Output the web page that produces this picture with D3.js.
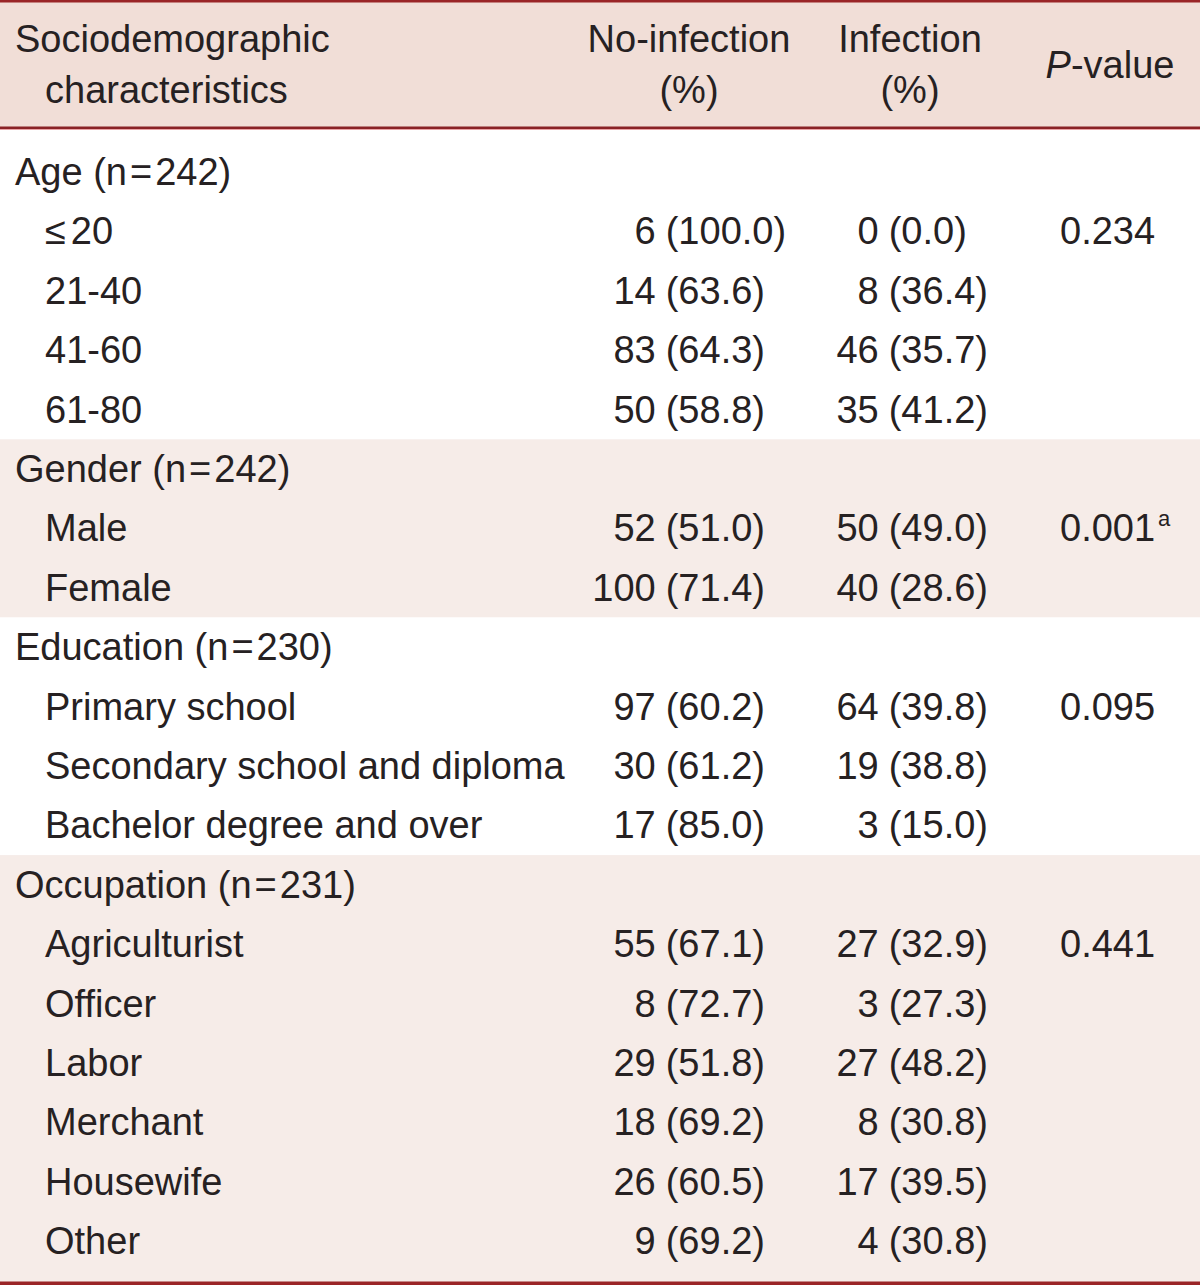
<!DOCTYPE html>
<html><head><meta charset="utf-8">
<script src="https://cdn.jsdelivr.net/npm/d3@7"></script>
<style>
html,body{margin:0;padding:0;background:#fff;}
svg{display:block;}
text{font-family:"Liberation Sans",Arial,sans-serif;font-size:38px;fill:#262122;white-space:pre;}
</style></head>
<body>
<svg id="chart" width="1200" height="1285"></svg>
<script>
// ---- data ----
const groupTitles = ["Age", "Gender", "Education", "Occupation"];
const groupN = [242, 242, 230, 231];
const groupPValues = ["0.234", "0.001", "0.095", "0.441"];
const groupPNotes = ["", "a", "", ""];
const groupShaded = [false, true, false, true];
const categories = [
  ["≤20", "21-40", "41-60", "61-80"],
  ["Male", "Female"],
  ["Primary school", "Secondary school and diploma", "Bachelor degree and over"],
  ["Agriculturist", "Officer", "Labor", "Merchant", "Housewife", "Other"]
];
const noInfectionN = [[6, 14, 83, 50], [52, 100], [97, 30, 17], [55, 8, 29, 18, 26, 9]];
const noInfectionPct = [["100.0", "63.6", "64.3", "58.8"], ["51.0", "71.4"], ["60.2", "61.2", "85.0"], ["67.1", "72.7", "51.8", "69.2", "60.5", "69.2"]];
const infectionN = [[0, 8, 46, 35], [50, 40], [64, 19, 3], [27, 3, 27, 8, 17, 4]];
const infectionPct = [["0.0", "36.4", "35.7", "41.2"], ["49.0", "28.6"], ["39.8", "38.8", "15.0"], ["32.9", "27.3", "48.2", "30.8", "39.5", "30.8"]];
const headerLabels = ["Sociodemographic", "characteristics", "No-infection", "(%)", "Infection", "(%)", "P-value"];

// ---- build rows ----
const rows = [];
groupTitles.forEach((g, gi) => {
  rows.push({type: "group", gi, label: g, n: groupN[gi]});
  categories[gi].forEach((c, ci) => {
    rows.push({type: "item", gi, ci, label: c,
      nn: noInfectionN[gi][ci], np: noInfectionPct[gi][ci],
      inn: infectionN[gi][ci], ip: infectionPct[gi][ci],
      p: ci === 0 ? groupPValues[gi] : null, note: ci === 0 ? groupPNotes[gi] : ""});
  });
});

const W = 1200, H = 1285;
const svg = d3.select("#chart");
const headerBottom = 128;
const tableBottom = 1282;
const step = 59.4;
const y = d3.scaleBand().domain(d3.range(rows.length))
  .range([172 - step / 2, 172 - step / 2 + step * rows.length]).paddingInner(0).paddingOuter(0);
const base = i => y(i) + y.bandwidth() / 2 + 13;

// header background
svg.append("rect").attr("x", 0).attr("y", 0).attr("width", W).attr("height", headerBottom).attr("fill", "#f1ded7");

// group bands
groupTitles.forEach((g, gi) => {
  const idx = rows.map((r, i) => r.gi === gi ? i : -1).filter(i => i >= 0);
  const first = idx[0], last = idx[idx.length - 1];
  const top = gi === 0 ? headerBottom : y(first);
  const bot = gi === groupTitles.length - 1 ? tableBottom : y(last) + y.bandwidth();
  svg.append("rect").attr("x", 0).attr("y", top).attr("width", W).attr("height", bot - top)
    .attr("fill", groupShaded[gi] ? "#f6ece8" : "#ffffff");
});

// rules
svg.append("rect").attr("x", 0).attr("y", 0).attr("width", W).attr("height", 2.5).attr("fill", "#9a2527");
svg.append("rect").attr("x", 0).attr("y", headerBottom - 1.5).attr("width", W).attr("height", 2.5).attr("fill", "#8a2226");
svg.append("rect").attr("x", 0).attr("y", headerBottom + 1).attr("width", W).attr("height", 1).attr("fill", "#e9a3a6");
svg.append("rect").attr("x", 0).attr("y", tableBottom - 0.5).attr("width", W).attr("height", H - tableBottom + 0.5).attr("fill", "#9a2527");

// header text
const hdr = svg.append("g");
hdr.append("text").attr("x", 15).attr("y", 52).text(headerLabels[0]);
hdr.append("text").attr("x", 45).attr("y", 103).text(headerLabels[1]);
hdr.append("text").attr("x", 689).attr("y", 52).attr("text-anchor", "middle").text(headerLabels[2]);
hdr.append("text").attr("x", 689).attr("y", 103).attr("text-anchor", "middle").text(headerLabels[3]);
hdr.append("text").attr("x", 910).attr("y", 52).attr("text-anchor", "middle").text(headerLabels[4]);
hdr.append("text").attr("x", 910).attr("y", 103).attr("text-anchor", "middle").text(headerLabels[5]);
const pv = hdr.append("text").attr("x", 1110).attr("y", 78).attr("text-anchor", "middle");
pv.append("tspan").attr("font-style", "italic").text("P");
pv.append("tspan").text(headerLabels[6].slice(1));

// measure: counts right-aligned, " (pct)" follows
const meas = svg.append("text").text("(63.6)");
const tailW = meas.node().getComputedTextLength();
meas.remove();
const gap = 10;
const noInfCountEnd = 765 - tailW - gap;
const infCountEnd = 988 - tailW - gap;

const body = svg.append("g");
rows.forEach((r, i) => {
  const by = base(i);
  if (r.type === "group") {
    const t = body.append("text").attr("x", 15).attr("y", by);
    t.append("tspan").text(r.label + " (n");
    t.append("tspan").attr("dx", 3).text("=");
    t.append("tspan").attr("dx", 3).text(r.n + ")");
  } else {
    const lt = body.append("text").attr("x", 45).attr("y", by);
    if (r.label.startsWith("≤")) {
      lt.append("tspan").text("≤");
      lt.append("tspan").attr("dx", 5).text(r.label.slice(1));
    } else {
      lt.text(r.label);
    }
    body.append("text").attr("x", noInfCountEnd).attr("y", by).attr("text-anchor", "end").text(r.nn);
    body.append("text").attr("x", noInfCountEnd + gap).attr("y", by).text("(" + r.np + ")");
    body.append("text").attr("x", infCountEnd).attr("y", by).attr("text-anchor", "end").text(r.inn);
    body.append("text").attr("x", infCountEnd + gap).attr("y", by).text("(" + r.ip + ")");
    if (r.p) {
      const pt = body.append("text").attr("x", 1060).attr("y", by).text(r.p);
      if (r.note) {
        body.append("text").attr("x", 1060 + pt.node().getComputedTextLength() + 3).attr("y", by - 15)
          .style("font-size", "22px").text(r.note);
      }
    }
  }
});
</script>
</body></html>
